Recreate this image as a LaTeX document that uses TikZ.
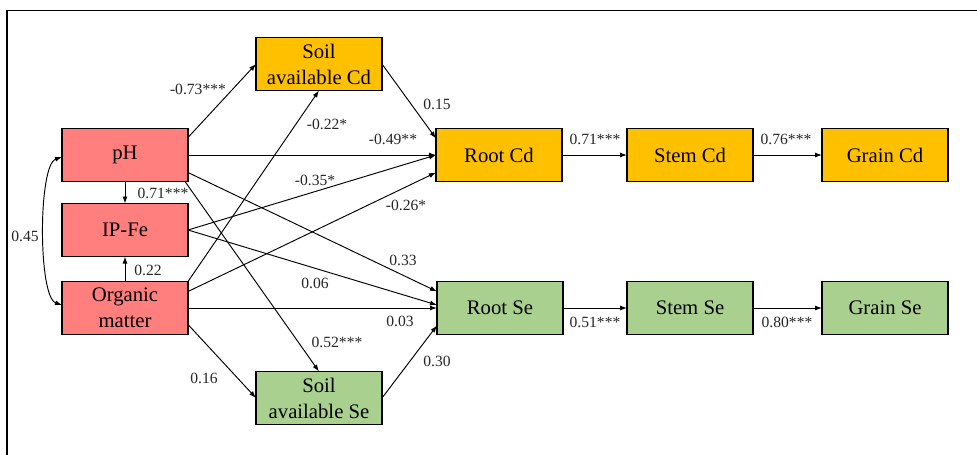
\documentclass[tikz,border=0pt]{standalone}
\usepackage{fontspec}
\setmainfont{Liberation Serif}
\usetikzlibrary{arrows.meta}
\definecolor{boxred}{HTML}{FF7F7F}
\definecolor{boxorange}{HTML}{FFC000}
\definecolor{boxgreen}{HTML}{A9D08E}
\tikzset{
  box/.style={draw=black, line width=1.4pt, minimum width=126pt, minimum height=53pt,
    inner sep=1pt, align=center, font=\fontsize{20.7}{26}\selectfont, outer sep=0pt},
  redbox/.style={box, fill=boxred},
  orangebox/.style={box, fill=boxorange},
  greenbox/.style={box, fill=boxgreen},
  conn/.style={line width=0.95pt, -{Latex[length=7pt,width=5pt]}},
  lab/.style={font=\fontsize{15.6}{18}\selectfont, inner sep=0pt, text=black!85}
}
\begin{document}
\begin{tikzpicture}[x=1pt,y=-1pt]
\useasboundingbox (0,0) rectangle (977,455);
\fill[white] (0,0) rectangle (977,455);
\coordinate (fbl) at (7,455);
\coordinate (ftl) at (7,10.5);
\coordinate (ftr) at (977,10.5);
\draw[line width=1.6pt] (fbl) -- (ftl) -- (ftr);

% boxes
\node[redbox] (pH) at (125,155) {pH};
\node[redbox] (IPFe) at (125,230) {IP-Fe};
\node[redbox] (OM) at (125,308) {Organic\\matter};
\node[orangebox] (SCd) at (319,64) {Soil\\available Cd};
\node[greenbox] (SSe) at (319,398) {Soil\\available Se};
\node[orangebox] (RCd) at (499,155) {Root Cd};
\node[orangebox] (StCd) at (690,155) {Stem Cd};
\node[orangebox] (GCd) at (885,155) {Grain Cd};
\node[greenbox] (RSe) at (500,308) {Root Se};
\node[greenbox] (StSe) at (690,308) {Stem Se};
\node[greenbox] (GSe) at (885,308) {Grain Se};

% connectors
\draw[conn] ([yshift=-9pt]pH.north east) -- (SCd.west);
\draw[conn] (SCd.east) -- ([yshift=-10pt]RCd.north west);
\draw[conn] (pH.east) -- (RCd.west);
\draw[conn] (IPFe.east) -- (RCd.west);
\draw[conn] ([yshift=-10pt]OM.north east) -- ([yshift=9pt]RCd.south west);
\draw[conn] (OM.north east) -- (SCd.south);
\draw[conn] ([yshift=9pt]pH.south east) -- ([yshift=-10pt]RSe.north west);
\draw[conn] ([xshift=-3pt]pH.south east) -- (SSe.north);
\draw[conn] (IPFe.east) -- ([yshift=3pt]RSe.west);
\draw[conn] (OM.east) -- (RSe.west);
\draw[conn] ([yshift=10pt]OM.south east) -- (SSe.west);
\draw[conn] (SSe.east) -- ([yshift=9pt]RSe.south west);
\draw[conn] (pH.south) -- (IPFe.north);
\draw[conn] (OM.north) -- (IPFe.south);
\draw[conn] (RCd.east) -- (StCd.west);
\draw[conn] (StCd.east) -- (GCd.west);
\draw[conn] (RSe.east) -- (StSe.west);
\draw[conn] (StSe.east) -- (GSe.west);
\draw[line width=0.95pt, {Latex[length=7pt,width=5pt]}-{Latex[length=7pt,width=5pt]}]
  ([yshift=-2pt]pH.west) .. controls +(-24,8) and +(-24,-8) .. ([yshift=3pt]OM.west);

% labels
\node[lab] (l1) at (198,89) {-0.73***};
\node[lab] (l2) at (437,104) {0.15};
\node[lab] (l3) at (327,124) {-0.22*};
\node[lab] (l4) at (393,139) {-0.49**};
\node[lab] (l5) at (315,180) {-0.35*};
\node[lab] (l6) at (163,193) {0.71***};
\node[lab] (l7) at (406,205) {-0.26*};
\node[lab] (l8) at (25,236) {0.45};
\node[lab] (l9) at (403,260) {0.33};
\node[lab] (l10) at (148,270) {0.22};
\node[lab] (l11) at (315,283) {0.06};
\node[lab] (l12) at (400,321) {0.03};
\node[lab] (l13) at (337,342) {0.52***};
\node[lab] (l14) at (437,361) {0.30};
\node[lab] (l15) at (204,378) {0.16};
\node[lab] (l16) at (595,139) {0.71***};
\node[lab] (l17) at (786,139) {0.76***};
\node[lab] (l18) at (595,322) {0.51***};
\node[lab] (l19) at (787,322) {0.80***};
\end{tikzpicture}
\end{document}
